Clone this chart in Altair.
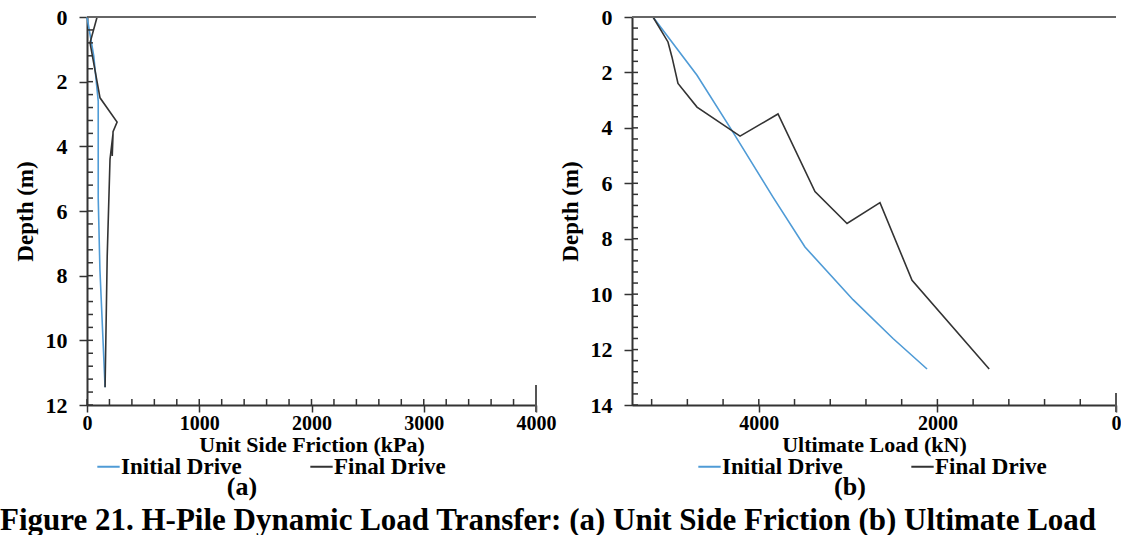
import altair as alt
import pandas as pd

# ---------------- data ----------------
series_names = ["Initial Drive", "Final Drive"]

# (a) Unit side friction (kPa) vs depth (m)
init_sf_depth = [0, 1.2, 2.6, 5.6, 7.8, 11.45]
init_sf = [0, 60, 100, 100, 115, 161]
final_sf_depth = [0, 0.8, 2.5, 3.25, 3.55, 4.3, 3.6, 4.4, 7.4, 11.45]
final_sf = [90, 27, 116, 268, 232, 225, 232, 205, 180, 161]

# (b) Ultimate load (kN) vs depth (m)
init_load_depth = [0, 2.1, 4.1, 6.5, 8.3, 10.2, 11.6, 12.7]
init_load = [5185, 4692, 4300, 3841, 3483, 2945, 2497, 2116]
final_load_depth = [0, 0.9, 1.45, 2.4, 3.25, 4.3, 3.5, 6.3, 7.45, 6.7, 9.5, 12.7]
final_load = [5185, 5017, 4972, 4905, 4692, 4210, 3785, 3371, 3012, 2643, 2284, 1420]

# axis ticks
sf_major = [0, 1000, 2000, 3000, 4000]
sf_minor = [0, 200, 400, 600, 800, 1000, 1200, 1400, 1600, 1800, 2000, 2200, 2400,
            2600, 2800, 3000, 3200, 3400, 3600, 3800, 4000]
sf_depth_major = [0, 2, 4, 6, 8, 10, 12]
sf_depth_minor = [0, 0.4, 0.8, 1.2, 1.6, 2, 2.4, 2.8, 3.2, 3.6, 4, 4.4, 4.8, 5.2, 5.6, 6,
                  6.4, 6.8, 7.2, 7.6, 8, 8.4, 8.8, 9.2, 9.6, 10, 10.4, 10.8, 11.2, 11.6, 12]
load_major = [0, 2000, 4000]
load_minor = [0, 400, 800, 1200, 1600, 2000, 2400, 2800, 3200, 3600, 4000, 4400, 4800, 5200]
load_depth_major = [0, 2, 4, 6, 8, 10, 12, 14]
load_depth_minor = [0, 0.4, 0.8, 1.2, 1.6, 2, 2.4, 2.8, 3.2, 3.6, 4, 4.4, 4.8, 5.2, 5.6, 6,
                    6.4, 6.8, 7.2, 7.6, 8, 8.4, 8.8, 9.2, 9.6, 10, 10.4, 10.8, 11.2, 11.6,
                    12, 12.4, 12.8, 13.2, 13.6, 14]

caption = "Figure 21. H-Pile Dynamic Load Transfer: (a) Unit Side Friction (b) Ultimate Load"

FONT = "Liberation Serif"
BLUE = "#4f9bd6"
DARK = "#333333"
AXC = "#333333"


def frame(depths, values, name):
    return pd.DataFrame({"depth": depths, "value": values, "series": name,
                         "idx": list(range(len(depths)))})


sf_df = pd.concat([frame(init_sf_depth, init_sf, "Initial Drive"),
                   frame(final_sf_depth, final_sf, "Final Drive")], ignore_index=True)
load_df = pd.concat([frame(init_load_depth, init_load, "Initial Drive"),
                     frame(final_load_depth, final_load, "Final Drive")], ignore_index=True)


def panel(df, w, h, xdom, xrev, xmajor, xminor, ydom, ymajor, yminor, xtitle,
          tag, legend_x, tag_x, end_len, with_caption=False):
    xscale = alt.Scale(domain=xdom, reverse=xrev, nice=False, zero=False)
    yscale = alt.Scale(domain=ydom, reverse=True, nice=False, zero=False)
    color = alt.Color(
        "series:N",
        scale=alt.Scale(domain=series_names, range=[BLUE, DARK]),
        legend=alt.Legend(title=None, orient="none", legendX=legend_x, legendY=h + 49,
                          direction="horizontal", columns=2, symbolType="stroke",
                          symbolSize=500, symbolStrokeWidth=2, labelFont=FONT,
                          labelFontSize=23, labelFontWeight="bold", labelColor="black",
                          columnPadding=64, labelOffset=0, padding=0),
    )
    lines = alt.Chart(df).mark_line(strokeWidth=1.6).encode(
        x=alt.X("value:Q", scale=xscale, axis=alt.Axis(
            orient="bottom", values=xmajor, format="d", title=xtitle, grid=False,
            tickSize=7, tickWidth=1.5, tickColor=AXC, domainColor=AXC, domainWidth=2,
            labelFont=FONT, labelFontSize=20, labelFontWeight="bold", labelColor="black",
            labelPadding=1, labelFlush=False, titleFont=FONT, titleFontSize=22,
            titleFontWeight="bold", titleColor="black", titlePadding=1)),
        y=alt.Y("depth:Q", scale=yscale, axis=alt.Axis(
            orient="left", values=ymajor, format="d", title="Depth (m)", grid=False,
            tickSize=8, tickWidth=1.5, tickColor=AXC, domainColor=AXC, domainWidth=2,
            labelFont=FONT, labelFontSize=22, labelFontWeight="bold", labelColor="black",
            labelPadding=12, labelFlush=False, titleFont=FONT, titleFontSize=23,
            titleFontWeight="bold", titleColor="black", titlePadding=8)),
        color=color,
        order="idx:Q",
    )
    yt = alt.Chart(pd.DataFrame({"t": yminor})).mark_rule(
        color=AXC, strokeWidth=1.5).encode(
        y=alt.Y("t:Q", scale=yscale, axis=None), x=alt.value(0), x2=alt.value(6))
    xt = alt.Chart(pd.DataFrame({"t": xminor})).mark_rule(
        color=AXC, strokeWidth=1.5).encode(
        x=alt.X("t:Q", scale=xscale, axis=None), y=alt.value(h), y2=alt.value(h - 6))
    end_rule = alt.Chart(pd.DataFrame({"t": [xdom[1] if not xrev else xdom[0]]})).mark_rule(
        color="#555555", strokeWidth=2).encode(
        x=alt.X("t:Q", scale=xscale, axis=None), y=alt.value(h - end_len),
        y2=alt.value(h + 7))
    top_line = alt.Chart(pd.DataFrame({"t": [ydom[0]]})).mark_rule(
        color="#666666", strokeWidth=2).encode(y=alt.Y("t:Q", scale=yscale, axis=None))
    tag_text = alt.Chart(pd.DataFrame({"t": [tag]})).mark_text(
        font=FONT, fontSize=26, fontWeight="bold", color="black", baseline="middle"
    ).encode(x=alt.value(tag_x), y=alt.value(h + 82), text="t:N")
    layers = [lines, yt, xt, end_rule, top_line, tag_text]
    if with_caption:
        cap = alt.Chart(pd.DataFrame({"t": [caption]})).mark_text(
            font=FONT, fontSize=31, fontWeight="bold", color="black", align="left",
            baseline="alphabetic", limit=1126, ellipsis=" ").encode(
            x=alt.value(-87), y=alt.value(h + 125), text="t:N")
        layers.append(cap)
    return alt.layer(*layers).resolve_axis(x="independent", y="independent").properties(
        width=w, height=h)


left = panel(sf_df, 449, 388, [0, 4000], False, sf_major, sf_minor, [0, 12],
             sf_depth_major, sf_depth_minor, "Unit Side Friction (kPa)", "(a)",
             9, 155, 20, with_caption=True)
right = panel(load_df, 484, 388, [0, 5420], True, load_major, load_minor, [0, 14],
              load_depth_major, load_depth_minor, "Ultimate Load (kN)", "(b)",
              65, 218, 12)

chart = alt.hconcat(left, right, spacing=96, bounds="flush").resolve_scale(
    color="independent").resolve_legend(color="independent").properties(
    padding={"left": 0, "top": 6, "right": 0, "bottom": 0}, background="white"
).configure_view(stroke=None)

chart.save("out.html", embed_options={"renderer": "svg", "actions": False})
